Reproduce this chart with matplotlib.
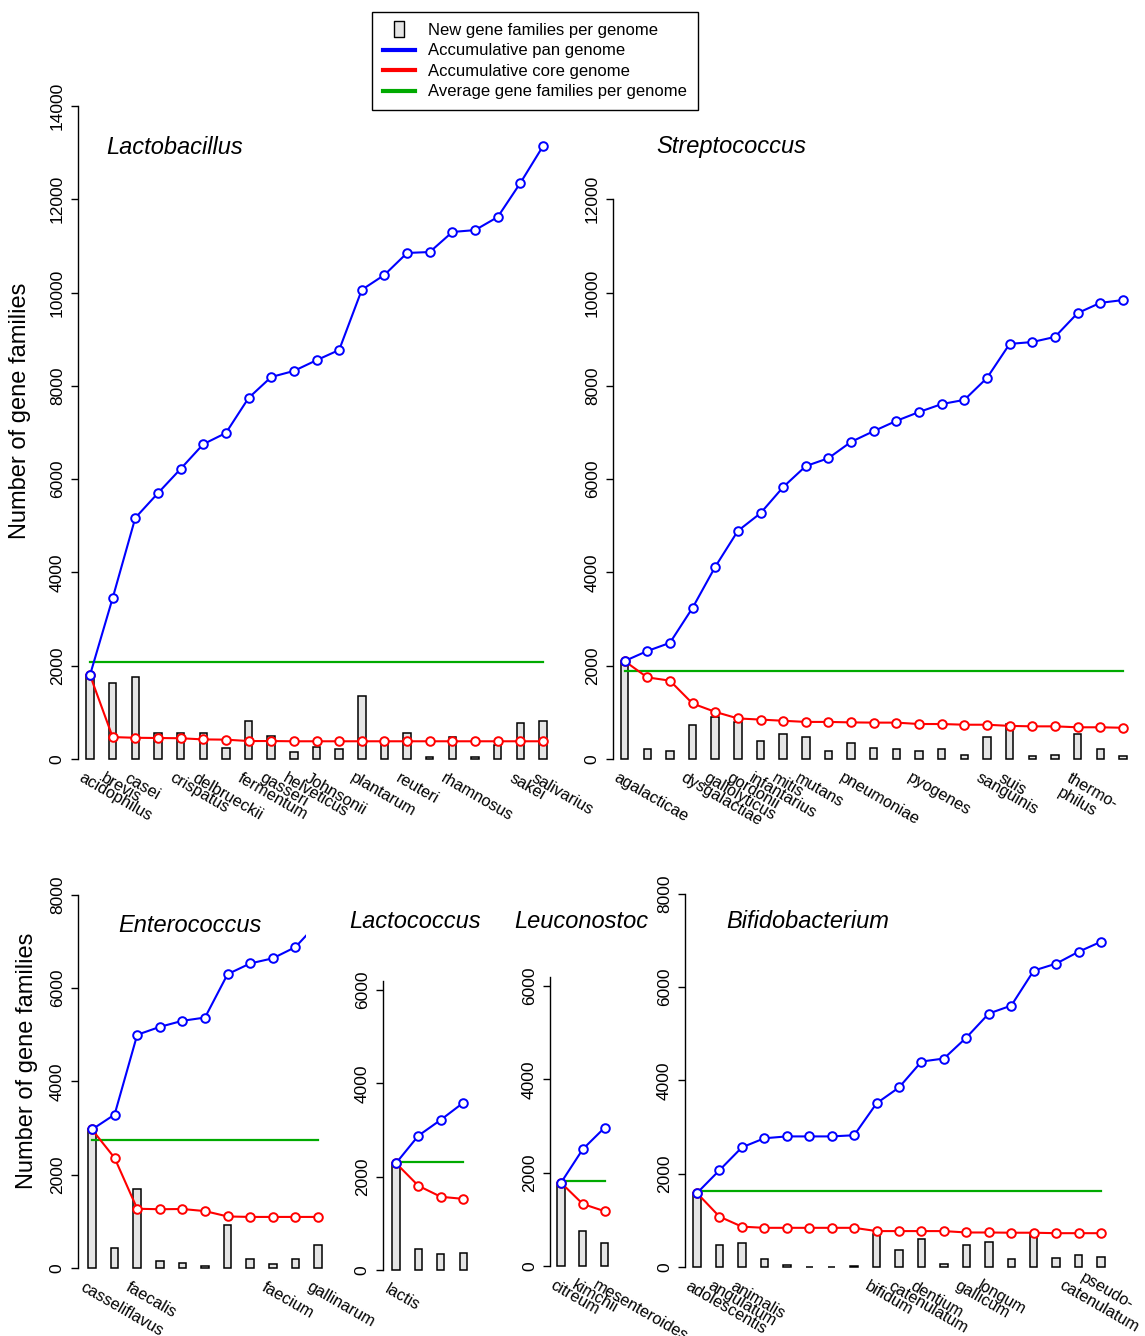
import numpy as np
import matplotlib
matplotlib.use("Agg")
import matplotlib.pyplot as plt
from matplotlib.lines import Line2D
from matplotlib.path import Path
from matplotlib.patches import Rectangle

plt.rcParams['font.family'] = ['Liberation Sans', 'DejaVu Sans']

# ---- data ----
lacto_pan = [1800, 3450, 5170, 5700, 6220, 6750, 6990, 7740, 8190, 8320, 8550,
             8770, 10060, 10380, 10850, 10870, 11300, 11340, 11620, 12350, 13140]
lacto_core = [1800, 470, 455, 450, 445, 420, 415, 385, 385, 380, 380,
              380, 380, 380, 380, 380, 380, 380, 380, 380, 380]
lacto_new = [1800, 1640, 1750, 550, 550, 550, 240, 810, 490, 145, 265,
             215, 1360, 330, 550, 40, 465, 50, 290, 770, 820]
lacto_avg = 2090
lacto_labels = ["acidophilus", "brevis", "casei", "crispatus", "delbrueckii",
                "fermentum", "gasseri", "helveticus", "Johnsonii", "plantarum",
                "reuteri", "rhamnosus", "sakei", "salivarius"]
lacto_label_idx = [0, 1, 2, 4, 5, 7, 8, 9, 10, 12, 14, 16, 19, 20]

strep_pan = [2100, 2315, 2490, 3240, 4120, 4890, 5270, 5830, 6280, 6450, 6800,
             7030, 7250, 7440, 7610, 7700, 8170, 8900, 8940, 9050, 9560, 9780, 9840]
strep_core = [2100, 1750, 1680, 1190, 1010, 870, 845, 820, 795, 795, 785,
              780, 780, 750, 750, 735, 735, 710, 700, 700, 680, 680, 670]
strep_new = [2100, 215, 165, 730, 895, 800, 395, 535, 465, 180, 335,
             235, 205, 180, 205, 85, 465, 750, 55, 85, 535, 205, 55]
strep_avg = 1893
strep_labels = ["agalacticae", "dysgalactiae", "gallolyticus", "gordonii",
                "infantarius", "mitis", "mutans", "pneumoniae", "pyogenes",
                "sanguinis", "suis", "thermo-\nphilus"]
strep_label_idx = [0, 3, 4, 5, 6, 7, 8, 10, 13, 16, 17, 20]

entero_pan = [2970, 3290, 5000, 5170, 5300, 5370, 6300, 6530, 6640, 6880, 7400]
entero_core = [2970, 2360, 1270, 1260, 1265, 1220, 1105, 1095, 1095, 1095, 1095]
entero_new = [2970, 430, 1690, 145, 105, 35, 930, 185, 80, 200, 485]
entero_avg = 2736
entero_labels = ["casseliflavus", "faecalis", "faecium", "gallinarum"]
entero_label_idx = [0, 2, 8, 10]

lcoc_pan = [2290, 2880, 3220, 3585]
lcoc_core = [2290, 1805, 1570, 1525]
lcoc_new = [2290, 440, 345, 360]
lcoc_avg = 2310
lcoc_labels = ["lactis"]
lcoc_label_idx = [0]

leu_pan = [1785, 2505, 2965]
leu_core = [1785, 1330, 1175]
leu_new = [1785, 740, 490]
leu_avg = 1820
leu_labels = ["citreum", "kimchii", "mesenteroides"]
leu_label_idx = [0, 1, 2]

bif_pan = [1585, 2075, 2565, 2760, 2800, 2800, 2800, 2825, 3510, 3850, 4405,
           4470, 4920, 5435, 5605, 6355, 6505, 6760, 6975]
bif_core = [1585, 1080, 865, 840, 840, 840, 840, 840, 770, 770, 770,
            770, 740, 740, 735, 735, 725, 725, 725]
bif_new = [1585, 475, 505, 180, 35, 10, 0, 30, 705, 360, 595,
           70, 470, 540, 165, 720, 185, 265, 225]
bif_avg = 1640
bif_labels = ["adolescentis", "angulatum", "animalis", "bifidum", "catenulatum",
              "dentium", "gallicum", "longum", "pseudo-\ncatenulatum"]
bif_label_idx = [0, 1, 2, 8, 9, 10, 12, 13, 18]

GREEN = "#00AA00"
BARFILL = "#E5E5E5"

W, H = 1145, 1336
DY = 0.04664  # pixels per gene family

fig = plt.figure(figsize=(W / 100, H / 100), dpi=100)


def make_panel(x0, y0, n, dx, xlo, ytop, spine_top):
    # x0, y0: pixel position of (index 0, value 0)
    xhi = n - 1 + 0.6
    ylo = -300
    left = x0 + xlo * dx
    width = (xhi - xlo) * dx
    bot = y0 - ylo * DY
    top = y0 - ytop * DY
    ax = fig.add_axes([left / W, 1 - bot / H, width / W, (bot - top) / H])
    ax.set_xlim(xlo, xhi)
    ax.set_ylim(ylo, ytop)
    for s in ["top", "right", "bottom"]:
        ax.spines[s].set_visible(False)
    ax.spines["left"].set_bounds(0, spine_top)
    ax.spines["left"].set_linewidth(1.0)
    ax.set_xticks([])
    ax.set_yticks(np.arange(0, spine_top + 1, 2000))
    ax.tick_params(axis="y", labelrotation=90, length=5, width=1.0,
                   labelsize=12.5, pad=4.5)
    for t in ax.get_yticklabels():
        t.set_va("center")
    ax.patch.set_visible(False)
    return ax


def draw(ax, pan, core, new, avg, labels, label_idx, clip_at=None):
    x = np.arange(len(pan))
    ax.bar(x, new, width=0.33, color=BARFILL, edgecolor="black",
           linewidth=1.1, zorder=2)
    ax.plot([0, len(pan) - 1], [avg, avg], color=GREEN, lw=1.6, zorder=3)
    ax.plot(x, core, color="red", lw=1.5, marker="o", ms=6.2, mfc="white",
            mec="red", mew=1.4, zorder=4, clip_on=False)
    line, = ax.plot(x, pan, color="blue", lw=1.5, marker="o", ms=6.2,
                    mfc="white", mec="blue", mew=1.4, zorder=5,
                    clip_on=clip_at is not None)
    if clip_at is not None:
        rect = Rectangle((-5, -1000), clip_at + 5, 20000,
                         transform=ax.transData)
        line.set_clip_path(rect)
    for lbl, i in zip(labels, label_idx):
        # the two-line "pseudo-/catenulatum" label is centred in the original
        centred = lbl.startswith("pseudo")
        off = (-20.5, 3) if centred else (-4.5, -8)
        ax.annotate(lbl, xy=(i, 0), xytext=off,
                    textcoords="offset points", rotation=-30, ha="left",
                    va="top", rotation_mode="anchor", fontsize=11.7,
                    multialignment="center" if centred else "left",
                    annotation_clip=False)


ax1 = make_panel(90, 759, len(lacto_pan), 22.65, -0.53, 14000, 14000)
draw(ax1, lacto_pan, lacto_core, lacto_new, lacto_avg, lacto_labels, lacto_label_idx)

ax2 = make_panel(624.6, 759, len(strep_pan), 22.65, -0.51, 12000, 12000)
draw(ax2, strep_pan, strep_core, strep_new, strep_avg, strep_labels, strep_label_idx)

ax3 = make_panel(92, 1268, len(entero_pan), 22.6, -0.62, 8000, 8000)
draw(ax3, entero_pan, entero_core, entero_new, entero_avg, entero_labels,
     entero_label_idx, clip_at=9.45)

ax4 = make_panel(396, 1270, len(lcoc_pan), 22.4, -0.58, 6300, 6200)
ax4.set_yticks(np.arange(0, 6001, 2000))
draw(ax4, lcoc_pan, lcoc_core, lcoc_new, lcoc_avg, lcoc_labels, lcoc_label_idx)

ax5 = make_panel(561, 1266, len(leu_pan), 21.8, -0.5, 6300, 6200)
ax5.set_yticks(np.arange(0, 6001, 2000))
draw(ax5, leu_pan, leu_core, leu_new, leu_avg, leu_labels, leu_label_idx)

ax6 = make_panel(697, 1267, len(bif_pan), 22.45, -0.53, 8000, 8000)
draw(ax6, bif_pan, bif_core, bif_new, bif_avg, bif_labels, bif_label_idx)

# titles
titles = [("Lactobacillus", 175, 147), ("Streptococcus", 731, 147),
          ("Enterococcus", 190, 925), ("Lactococcus", 415, 922),
          ("Leuconostoc", 581, 922), ("Bifidobacterium", 808, 922)]
for name, px, py in titles:
    fig.text(px / W, 1 - py / H, name, fontsize=17, style="italic",
             ha="center", va="center")

fig.text(20 / W, 1 - 411 / H, "Number of gene families", fontsize=17,
         rotation=90, ha="center", va="center")
fig.text(27 / W, 1 - 1061 / H, "Number of gene families", fontsize=17,
         rotation=90, ha="center", va="center")

# legend
bar_marker = Path([(-0.35, -0.5), (0.35, -0.5), (0.35, 0.5), (-0.35, 0.5),
                   (-0.35, -0.5)], closed=True)
handles = [
    Line2D([], [], linestyle="none", marker=bar_marker, ms=11, mfc=BARFILL,
           mec="black", mew=1.0),
    Line2D([], [], color="blue", lw=3),
    Line2D([], [], color="red", lw=3),
    Line2D([], [], color=GREEN, lw=3),
]
names = ["New gene families per genome", "Accumulative pan genome",
         "Accumulative core genome", "Average gene families per genome"]
leg = fig.legend(handles, names, loc="upper left",
                 bbox_to_anchor=(372 / W, 1 - 12 / H), fontsize=12,
                 frameon=True, fancybox=False, framealpha=1,
                 edgecolor="black", handlelength=1.9, handletextpad=0.84,
                 labelspacing=0.33, borderpad=0.65, borderaxespad=0)
leg.get_frame().set_linewidth(1.0)

fig.savefig("out.png", dpi=100)
